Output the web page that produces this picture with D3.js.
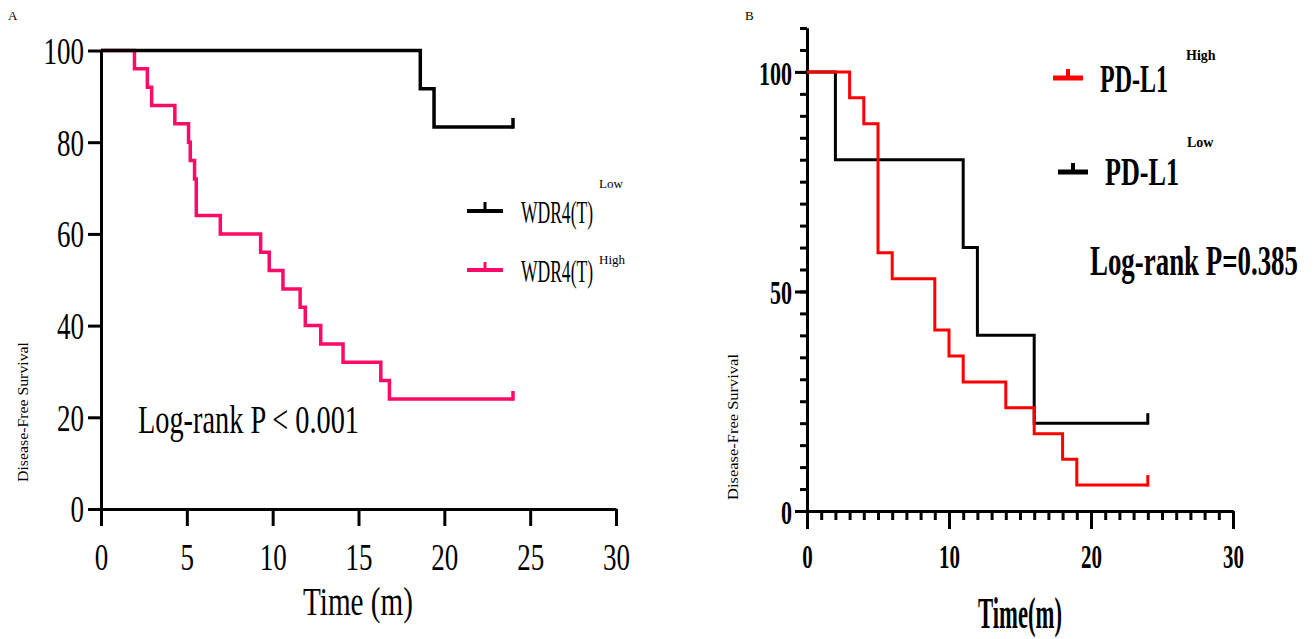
<!DOCTYPE html>
<html>
<head>
<meta charset="utf-8">
<script src="https://cdn.jsdelivr.net/npm/d3@7"></script>
<style>
body { margin: 0; background: #fff; }
svg text { font-family: "Liberation Serif", "Times New Roman", serif; fill: #000; }
</style>
</head>
<body>
<svg id="chart" width="1315" height="639"></svg>
<script>
// ---- panel A: WDR4(T) ----
var wdrLowTime  = [0, 18.6, 19.4, 24];
var wdrLowSurv  = [100, 91.67, 83.33, 83.33];
var wdrHighTime = [0, 1.95, 2.7, 2.95, 4.3, 5.1, 5.2, 5.45, 5.55, 6.95, 9.3, 9.8, 10.6, 11.6, 11.9, 12.8, 14.1, 16.3, 16.8, 24];
var wdrHighSurv = [100, 96, 92, 88, 84, 80, 76, 72, 64, 60, 56, 52, 48, 44, 40, 36, 32, 28, 24, 24];
var xTicksA = [0, 5, 10, 15, 20, 25, 30];
var yTicksA = [0, 20, 40, 60, 80, 100];

// ---- panel B: PD-L1 ----
var pdHighTime = [0, 3, 4, 5, 6, 9, 10, 11, 14, 16, 18, 19, 24];
var pdHighSurv = [100, 94.1, 88.2, 58.8, 52.9, 41.2, 35.3, 29.4, 23.5, 17.6, 11.8, 5.9, 5.9];
var pdLowTime  = [0, 2, 11, 12, 16, 24];
var pdLowSurv  = [100, 80, 60, 40, 20, 20];
var xTicksB = [0, 10, 20, 30];
var yTicksB = [0, 50, 100];

var svg = d3.select('#chart');

function squeeze(sel, len) {
    sel.attr('textLength', len).attr('lengthAdjust', 'spacingAndGlyphs');
}

function squeezeTicks(g, perChar) {
    g.selectAll('.tick text').each(function() {
        var t = d3.select(this);
        squeeze(t, t.text().length * perChar);
    });
}

function toPoints(times, surv) {
    return times.map(function(t, i) { return [t, surv[i]]; });
}

function drawCurve(g, x, y, times, surv, color, width, censor) {
    var line = d3.line()
        .x(function(d) { return x(d[0]); })
        .y(function(d) { return y(d[1]); })
        .curve(d3.curveStepAfter);
    g.append('path')
        .datum(toPoints(times, surv))
        .attr('d', line)
        .attr('fill', 'none')
        .attr('stroke', color)
        .attr('stroke-width', width)
        .attr('stroke-linejoin', 'miter');
    // censor mark at the last point
    var n = times.length - 1;
    g.append('line')
        .attr('x1', x(times[n])).attr('x2', x(times[n]))
        .attr('y1', y(surv[n]) + width / 2).attr('y2', y(surv[n]) - censor)
        .attr('stroke', color)
        .attr('stroke-width', width);
}

function legendMark(g, x1, x2, y, color, width, tick) {
    g.append('line')
        .attr('x1', x1).attr('x2', x2).attr('y1', y).attr('y2', y)
        .attr('stroke', color).attr('stroke-width', width);
    g.append('line')
        .attr('x1', (x1 + x2) / 2).attr('x2', (x1 + x2) / 2)
        .attr('y1', y).attr('y2', y - tick)
        .attr('stroke', color).attr('stroke-width', width - 1);
}

// ================= PANEL A =================
var xA = d3.scaleLinear().domain([0, 30]).range([101, 616]);
var yA = d3.scaleLinear().domain([0, 100]).range([509, 50.5]);
var gA = svg.append('g');

var axA = gA.append('g')
    .attr('transform', 'translate(0,' + yA(0) + ')')
    .call(d3.axisBottom(xA).tickValues(xTicksA).tickSize(17).tickSizeOuter(0).tickFormat(d3.format('d')));
var ayA = gA.append('g')
    .attr('transform', 'translate(' + xA(0) + ',0)')
    .call(d3.axisLeft(yA).tickValues(yTicksA).tickSize(13).tickSizeOuter(0).tickFormat(d3.format('d')));

[axA, ayA].forEach(function(a) {
    a.selectAll('path, line').attr('stroke', '#000').attr('stroke-width', 3);
    a.selectAll('text').attr('font-family', '"Liberation Serif", serif').attr('font-size', 38).attr('fill', '#000');
    squeezeTicks(a, 13.5);
});
axA.selectAll('.tick text').attr('y', 61).attr('dy', 0);
ayA.selectAll('.tick text').attr('x', -17).attr('dy', '0.34em');

drawCurve(gA, xA, yA, wdrHighTime, wdrHighSurv, '#ff0a66', 3.5, 8);
drawCurve(gA, xA, yA, wdrLowTime, wdrLowSurv, '#000', 3.5, 9);

gA.append('text').attr('x', 8).attr('y', 20).attr('font-size', 13).text('A');

var tA = gA.append('text').attr('x', 358).attr('y', 615).attr('text-anchor', 'middle')
    .attr('font-size', 40).text('Time (m)');
squeeze(tA, 110);

var yTitleA = gA.append('text')
    .attr('transform', 'translate(28,412) rotate(-90)')
    .attr('text-anchor', 'middle').attr('font-size', 15).text('Disease-Free Survival');
squeeze(yTitleA, 140);

var pA = gA.append('text').attr('x', 138).attr('y', 433).attr('font-size', 41).text('Log-rank P < 0.001');
squeeze(pA, 221);

// legend A
legendMark(gA, 467, 503, 211, '#000', 4, 9);
legendMark(gA, 467, 503, 270, '#ff0a66', 4, 8);
var lA1 = gA.append('text').attr('x', 521).attr('y', 223).attr('font-size', 32).text('WDR4(T)');
squeeze(lA1, 72);
var lA2 = gA.append('text').attr('x', 521).attr('y', 282).attr('font-size', 32).text('WDR4(T)');
squeeze(lA2, 72);
gA.append('text').attr('x', 599).attr('y', 188).attr('font-size', 13).text('Low');
gA.append('text').attr('x', 599).attr('y', 264).attr('font-size', 13).text('High');

// ================= PANEL B =================
var xB = d3.scaleLinear().domain([0, 30]).range([807, 1233]);
var yB = d3.scaleLinear().domain([0, 110]).range([511, 28]);
var gB = svg.append('g');

var axBminor = gB.append('g')
    .attr('transform', 'translate(0,' + yB(0) + ')')
    .call(d3.axisBottom(xB).tickValues(d3.range(0, 31, 1)).tickSize(9).tickSizeOuter(0).tickFormat(''));
var axB = gB.append('g')
    .attr('transform', 'translate(0,' + yB(0) + ')')
    .call(d3.axisBottom(xB).tickValues(xTicksB).tickSize(18).tickSizeOuter(0).tickFormat(d3.format('d')));
var ayBminor = gB.append('g')
    .attr('transform', 'translate(' + xB(0) + ',0)')
    .call(d3.axisLeft(yB).tickValues(d3.range(0, 111, 5)).tickSize(7).tickSizeOuter(0).tickFormat(''));
var ayB = gB.append('g')
    .attr('transform', 'translate(' + xB(0) + ',0)')
    .call(d3.axisLeft(yB).tickValues(yTicksB).tickSize(12).tickSizeOuter(0).tickFormat(d3.format('d')));

[axBminor, axB, ayBminor, ayB].forEach(function(a) {
    a.selectAll('path, line').attr('stroke', '#000').attr('stroke-width', 3);
    a.selectAll('text').attr('font-family', '"Liberation Sans", Arial, sans-serif')
        .attr('font-weight', 'bold').attr('font-size', 34).attr('fill', '#000');
});
squeezeTicks(axB, 10.5);
squeezeTicks(ayB, 11);
axB.selectAll('.tick text').attr('y', 57).attr('dy', 0);
ayB.selectAll('.tick text').attr('x', -15).attr('dy', '0.36em');

drawCurve(gB, xB, yB, pdLowTime, pdLowSurv, '#000', 3, 10);
drawCurve(gB, xB, yB, pdHighTime, pdHighSurv, '#ff0000', 3, 10);

gB.append('text').attr('x', 745).attr('y', 20).attr('font-size', 13).text('B');

var tB = gB.append('text').attr('x', 1020).attr('y', 628).attr('text-anchor', 'middle')
    .attr('font-size', 44).attr('font-weight', 'bold').text('Time(m)');
squeeze(tB, 84);

var yTitleB = gB.append('text')
    .attr('transform', 'translate(738,427) rotate(-90)')
    .attr('text-anchor', 'middle').attr('font-size', 15).text('Disease-Free Survival');
squeeze(yTitleB, 146);

var pB = gB.append('text').attr('x', 1090).attr('y', 275).attr('font-size', 42)
    .attr('font-weight', 'bold').text('Log-rank P=0.385');
squeeze(pB, 208);

// legend B
legendMark(gB, 1053, 1083, 78, '#ff0000', 5, 9);
legendMark(gB, 1058, 1088, 172, '#000', 5, 9);
var lB1 = gB.append('text').attr('x', 1100).attr('y', 92).attr('font-size', 40)
    .attr('font-weight', 'bold').text('PD-L1');
squeeze(lB1, 68);
var lB2 = gB.append('text').attr('x', 1105).attr('y', 185).attr('font-size', 40)
    .attr('font-weight', 'bold').text('PD-L1');
squeeze(lB2, 74);
gB.append('text').attr('x', 1186).attr('y', 60).attr('font-size', 14)
    .attr('font-weight', 'bold').text('High');
gB.append('text').attr('x', 1187).attr('y', 147).attr('font-size', 14)
    .attr('font-weight', 'bold').text('Low');
</script>
</body>
</html>
